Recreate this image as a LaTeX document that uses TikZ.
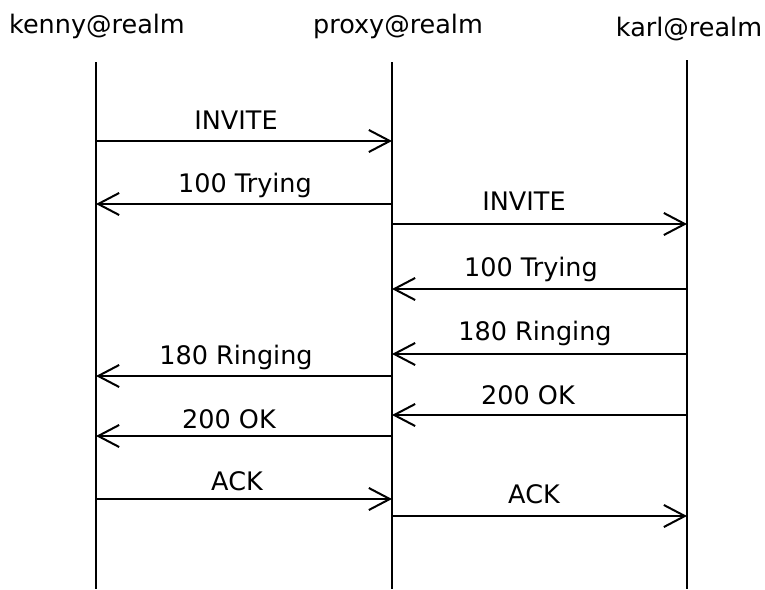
\documentclass[tikz,border=0pt]{standalone}
\usepackage{fontspec}
\setmainfont{DejaVu Sans}
\usetikzlibrary{arrows.meta}
\begin{document}
\begin{tikzpicture}[x=1pt,y=-1pt,
  lifeline/.style={line width=2pt},
  msg/.style={line width=2pt,-{Straight Barb[length=21pt,width=22pt,line width=2pt]}},
  lbl/.style={anchor=base,inner sep=0pt,font=\fontsize{25.5}{25.5}\selectfont},
  hdr/.style={anchor=base,inner sep=0pt,font=\fontsize{25.5}{25.5}\selectfont}]
\useasboundingbox (0,0) rectangle (765,589);
% headers
\node[hdr] (hk) at (97,33) {kenny@realm};
\node[hdr] (hp) at (398,33) {proxy@realm};
\node[hdr] (hc) at (689,36) {karl@realm};
% lifelines
\coordinate (kt) at (96,62);  \coordinate (kb) at (96,589);
\coordinate (pt) at (392,62); \coordinate (pb) at (392,589);
\coordinate (ct) at (687,60); \coordinate (cb) at (687,589);
\draw[lifeline] (kt) -- (kb);
\draw[lifeline] (pt) -- (pb);
\draw[lifeline] (ct) -- (cb);
% message end points
\foreach \n/\y in {1/141,2/204,3/224,4/289,5/354,6/376,7/415,8/436,9/499,10/516}{
  \coordinate (k\n) at (96,\y);
  \coordinate (p\n) at (392,\y);
  \coordinate (c\n) at (687,\y);
}
\draw[msg] (k1) -- (p1);
\draw[msg] (p2) -- (k2);
\draw[msg] (p3) -- (c3);
\draw[msg] (c4) -- (p4);
\draw[msg] (c5) -- (p5);
\draw[msg] (p6) -- (k6);
\draw[msg] (c7) -- (p7);
\draw[msg] (p8) -- (k8);
\draw[msg] (k9) -- (p9);
\draw[msg] (p10) -- (c10);
% labels
\node[lbl] (l1) at (236,129) {INVITE};
\node[lbl] (l2) at (245,192) {100 Trying};
\node[lbl] (l3) at (524,210) {INVITE};
\node[lbl] (l4) at (531,276) {100 Trying};
\node[lbl] (l5) at (535,340) {180 Ringing};
\node[lbl] (l6) at (236,364) {180 Ringing};
\node[lbl] (l7) at (528,404) {200 OK};
\node[lbl] (l8) at (229,428) {200 OK};
\node[lbl] (l9) at (237,490) {ACK};
\node[lbl] (l10) at (534,503) {ACK};
\end{tikzpicture}
\end{document}
